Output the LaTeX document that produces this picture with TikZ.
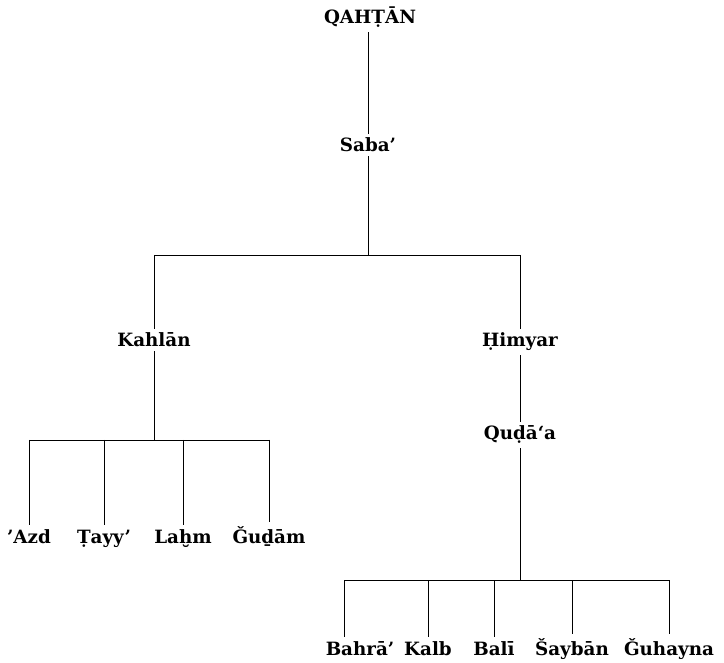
\documentclass[tikz,border=0pt]{standalone}
\usepackage{fontspec}
\setmainfont{DejaVu Serif}
\begin{document}
\begin{tikzpicture}[x=1pt,y=-1pt,
  lbl/.style={font=\fontsize{18.3}{21}\selectfont\bfseries, inner sep=4pt, anchor=base},
  ln/.style={line width=0.9pt}]
\useasboundingbox (0,0) rectangle (724,663);
% labels (base anchors)
\node[lbl] (q) at (370,24) {QAHṬĀN};
\node[lbl] (saba) at (368,152) {Saba’};
\node[lbl] (kahlan) at (154,347) {Kahlān};
\node[lbl] (himyar) at (520,347) {Ḥimyar};
\node[lbl] (quda) at (520,440) {Quḍā‘a};
\node[lbl] (azd) at (29,543) {’Azd};
\node[lbl] (tayy) at (104,543) {Ṭayy’};
\node[lbl] (lahm) at (183,543) {Laḫm};
\node[lbl] (gudam) at (269,543) {Ǧuḏām};
\node[lbl] (bahra) at (360,655) {Bahrā’};
\node[lbl] (kalb) at (428,655) {Kalb};
\node[lbl] (bali) at (494,655) {Balī};
\node[lbl] (sayban) at (572,655) {Šaybān};
\node[lbl] (guhayna) at (669,655) {Ǧuhayna};
% junctions
\coordinate (b1) at (368,255);
\coordinate (b1l) at (154,255);
\coordinate (b1r) at (520,255);
\coordinate (b2) at (154,440);
\coordinate (b2l) at (29,440);
\coordinate (b2r) at (269,440);
\coordinate (b3) at (520,580);
\coordinate (b3l) at (344,580);
\coordinate (b3r) at (669,580);
% connectors
\draw[ln] (q.south -| saba) -- (saba);
\draw[ln] (saba) -- (b1);
\draw[ln] (b1l) -- (b1r);
\draw[ln] (b1l) -- (kahlan);
\draw[ln] (b1r) -- (himyar);
\draw[ln] (himyar) -- (quda);
\draw[ln] (kahlan) -- (b2);
\draw[ln] (b2l) -- (b2r);
\draw[ln] (b2l) -- (azd.north -| b2l);
\draw[ln] (tayy.north |- b2) -- (tayy);
\draw[ln] (lahm.north |- b2) -- (lahm);
\draw[ln] (b2r) -- (gudam.north -| b2r);
\draw[ln] (quda) -- (b3);
\draw[ln] (b3l) -- (b3r);
\draw[ln] (b3l) -- (bahra.north -| b3l);
\draw[ln] (kalb.north |- b3) -- (kalb);
\draw[ln] (bali.north |- b3) -- (bali);
\draw[ln] (sayban.north |- b3) -- (sayban);
\draw[ln] (b3r) -- (guhayna.north -| b3r);
\end{tikzpicture}
\end{document}
